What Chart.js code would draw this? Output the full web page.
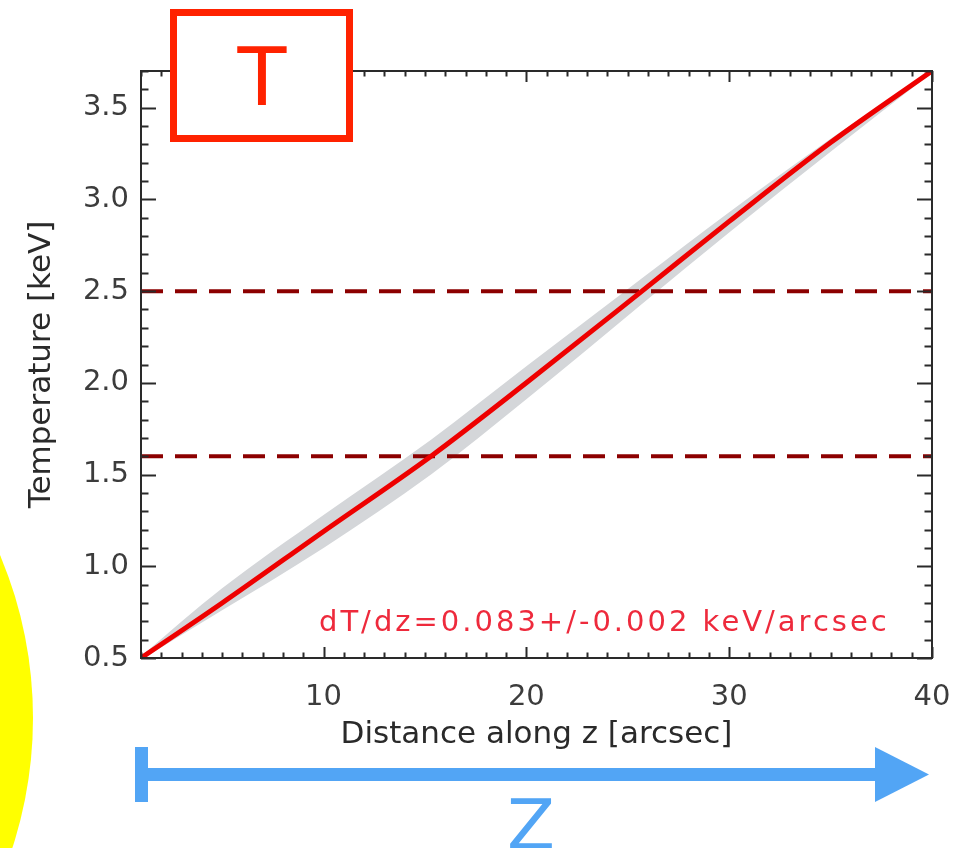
<!DOCTYPE html>
<html>
<head>
<meta charset="utf-8">
<script src="https://cdn.jsdelivr.net/npm/chart.js@4.4.1/dist/chart.umd.min.js"></script>
<style>
  html, body { margin: 0; padding: 0; background: #fff; }
  canvas { display: block; }
</style>
</head>
<body>
<canvas id="tempChart" width="955" height="848"></canvas>
<script>
// temperature profile along z
var zVals    = [1, 5, 10, 15.3, 20, 25.7, 30, 35, 40];
var tempVals = [0.50, 0.80, 1.19, 1.60, 2.00, 2.50, 2.88, 3.31, 3.70];
var tempHi   = [0.51, 0.88, 1.28, 1.69, 2.09, 2.57, 2.93, 3.33, 3.70];
var tempLo   = [0.49, 0.76, 1.10, 1.50, 1.91, 2.43, 2.82, 3.26, 3.69];

var refLevels = [1.6, 2.5];
var xTickLabels = [10, 20, 30, 40];
var yTickLabels = [0.5, 1.0, 1.5, 2.0, 2.5, 3.0, 3.5];

var slopeText = 'dT/dz=0.083+/-0.002 keV/arcsec';
var boxLabel = 'T';
var arrowLabel = 'Z';

var fontName = "'DejaVu Sans', 'Liberation Sans', sans-serif";

function toPoints(ys) {
    var out = [];
    for (let i = 0; i < zVals.length; i++) {
        out.push({ x: zVals[i], y: ys[i] });
    }
    return out;
}

var datasets = [];
// band: lower edge then upper edge filled down to it
datasets.push({
    label: 'lo',
    data: toPoints(tempLo),
    borderWidth: 0,
    pointRadius: 0,
    fill: false,
    cubicInterpolationMode: 'monotone',
    order: 3
});
datasets.push({
    label: 'hi',
    data: toPoints(tempHi),
    borderWidth: 0,
    pointRadius: 0,
    fill: '-1',
    backgroundColor: '#d4d6d9',
    cubicInterpolationMode: 'monotone',
    order: 3
});
for (let i = 0; i < refLevels.length; i++) {
    datasets.push({
        label: 'level ' + refLevels[i],
        data: [{ x: 1, y: refLevels[i] }, { x: 40, y: refLevels[i] }],
        borderColor: '#8c0000',
        borderWidth: 4,
        borderDash: [22, 12],
        pointRadius: 0,
        fill: false,
        order: 1
    });
}
datasets.push({
    label: 'T',
    data: toPoints(tempVals),
    borderColor: '#ee0000',
    borderWidth: 5,
    pointRadius: 0,
    fill: false,
    cubicInterpolationMode: 'monotone',
    order: 0
});

// IDL-like box with inward ticks on all four sides
var framePlugin = {
    id: 'frame',
    afterDatasetsDraw: function (chart) {
        var c = chart.ctx;
        var a = chart.chartArea;
        var xs = chart.scales.x;
        var ys = chart.scales.y;
        c.save();
        c.strokeStyle = '#2a2a2a';
        c.lineWidth = 2;
        c.strokeRect(a.left, a.top, a.right - a.left, a.bottom - a.top);
        c.beginPath();
        for (let v = 1; v <= 40; v++) {
            let px = Math.round(xs.getPixelForValue(v)) + 0.5;
            let len = (v % 10 === 0) ? 11 : 5.5;
            c.moveTo(px, a.bottom); c.lineTo(px, a.bottom - len);
            c.moveTo(px, a.top); c.lineTo(px, a.top + len);
        }
        for (let k = 5; k <= 37; k++) {
            let py = Math.round(ys.getPixelForValue(k / 10)) + 0.5;
            let len = (k % 5 === 0) ? 15 : 7.5;
            c.moveTo(a.left, py); c.lineTo(a.left + len, py);
            c.moveTo(a.right, py); c.lineTo(a.right - len, py);
        }
        c.stroke();

        // slope annotation
        c.fillStyle = '#ee2a3c';
        c.font = '29px ' + fontName;
        c.textAlign = 'left';
        c.textBaseline = 'middle';
        if ('letterSpacing' in c) c.letterSpacing = '3px';
        c.fillText(slopeText, 319, 623);
        if ('letterSpacing' in c) c.letterSpacing = '0px';
        c.restore();
    },
    afterDraw: function (chart) {
        var c = chart.ctx;
        c.save();
        // yellow disc on the left edge
        c.fillStyle = '#ffff00';
        c.beginPath();
        c.arc(-386, 718, 419, 0, Math.PI * 2);
        c.fill();

        // blue z arrow
        c.fillStyle = '#52a5f5';
        c.fillRect(135, 768, 745, 13);
        c.fillRect(135, 747, 13, 55);
        c.beginPath();
        c.moveTo(875, 747);
        c.lineTo(929, 774.5);
        c.lineTo(875, 802);
        c.closePath();
        c.fill();
        c.font = '70px ' + fontName;
        c.textAlign = 'center';
        c.textBaseline = 'alphabetic';
        c.fillText(arrowLabel, 531, 849);

        // red T box
        c.fillStyle = '#ffffff';
        c.fillRect(173.5, 12.5, 176, 126);
        c.strokeStyle = '#ff2200';
        c.lineWidth = 7;
        c.strokeRect(173.5, 12.5, 176, 126);
        c.fillStyle = '#ff2200';
        c.font = '80px ' + fontName;
        c.fillText(boxLabel, 262, 105);
        c.restore();
    }
};

var ctx = document.getElementById('tempChart').getContext('2d');
var chart = new Chart(ctx, {
    type: 'line',
    data: { datasets: datasets },
    options: {
        responsive: false,
        animation: false,
        devicePixelRatio: 1,
        layout: { padding: { left: 0, top: 71, right: 23, bottom: 0 } },
        plugins: {
            legend: { display: false },
            tooltip: { enabled: false }
        },
        scales: {
            x: {
                type: 'linear',
                min: 1,
                max: 40,
                grid: { display: false, drawTicks: false },
                border: { display: false },
                afterBuildTicks: function (s) {
                    s.ticks = xTickLabels.map(function (v) { return { value: v }; });
                },
                afterFit: function (s) {
                    s.height = 190;
                    s.paddingLeft = 0;
                    s.paddingRight = 0;
                },
                ticks: {
                    padding: 22,
                    color: '#3c3c3c',
                    font: { family: fontName, size: 29 },
                    maxRotation: 0,
                    callback: function (v) { return String(v); }
                },
                title: {
                    display: true,
                    text: 'Distance along z [arcsec]',
                    color: '#2a2a2a',
                    font: { family: fontName, size: 31 },
                    padding: { top: 0, bottom: 94 }
                }
            },
            y: {
                type: 'linear',
                min: 0.5,
                max: 3.7,
                grid: { display: false, drawTicks: false },
                border: { display: false },
                afterBuildTicks: function (s) {
                    s.ticks = yTickLabels.map(function (v) { return { value: v }; });
                },
                afterFit: function (s) {
                    s.width = 141;
                    s.paddingTop = 0;
                    s.paddingBottom = 0;
                },
                ticks: {
                    padding: 12,
                    color: '#3c3c3c',
                    font: { family: fontName, size: 29 },
                    callback: function (v) { return Number(v).toFixed(1); }
                },
                title: {
                    display: true,
                    text: 'Temperature [keV]',
                    color: '#2a2a2a',
                    font: { family: fontName, size: 31 },
                    padding: { top: 23, bottom: 0 }
                }
            }
        }
    },
    plugins: [framePlugin]
});
</script>
</body>
</html>
